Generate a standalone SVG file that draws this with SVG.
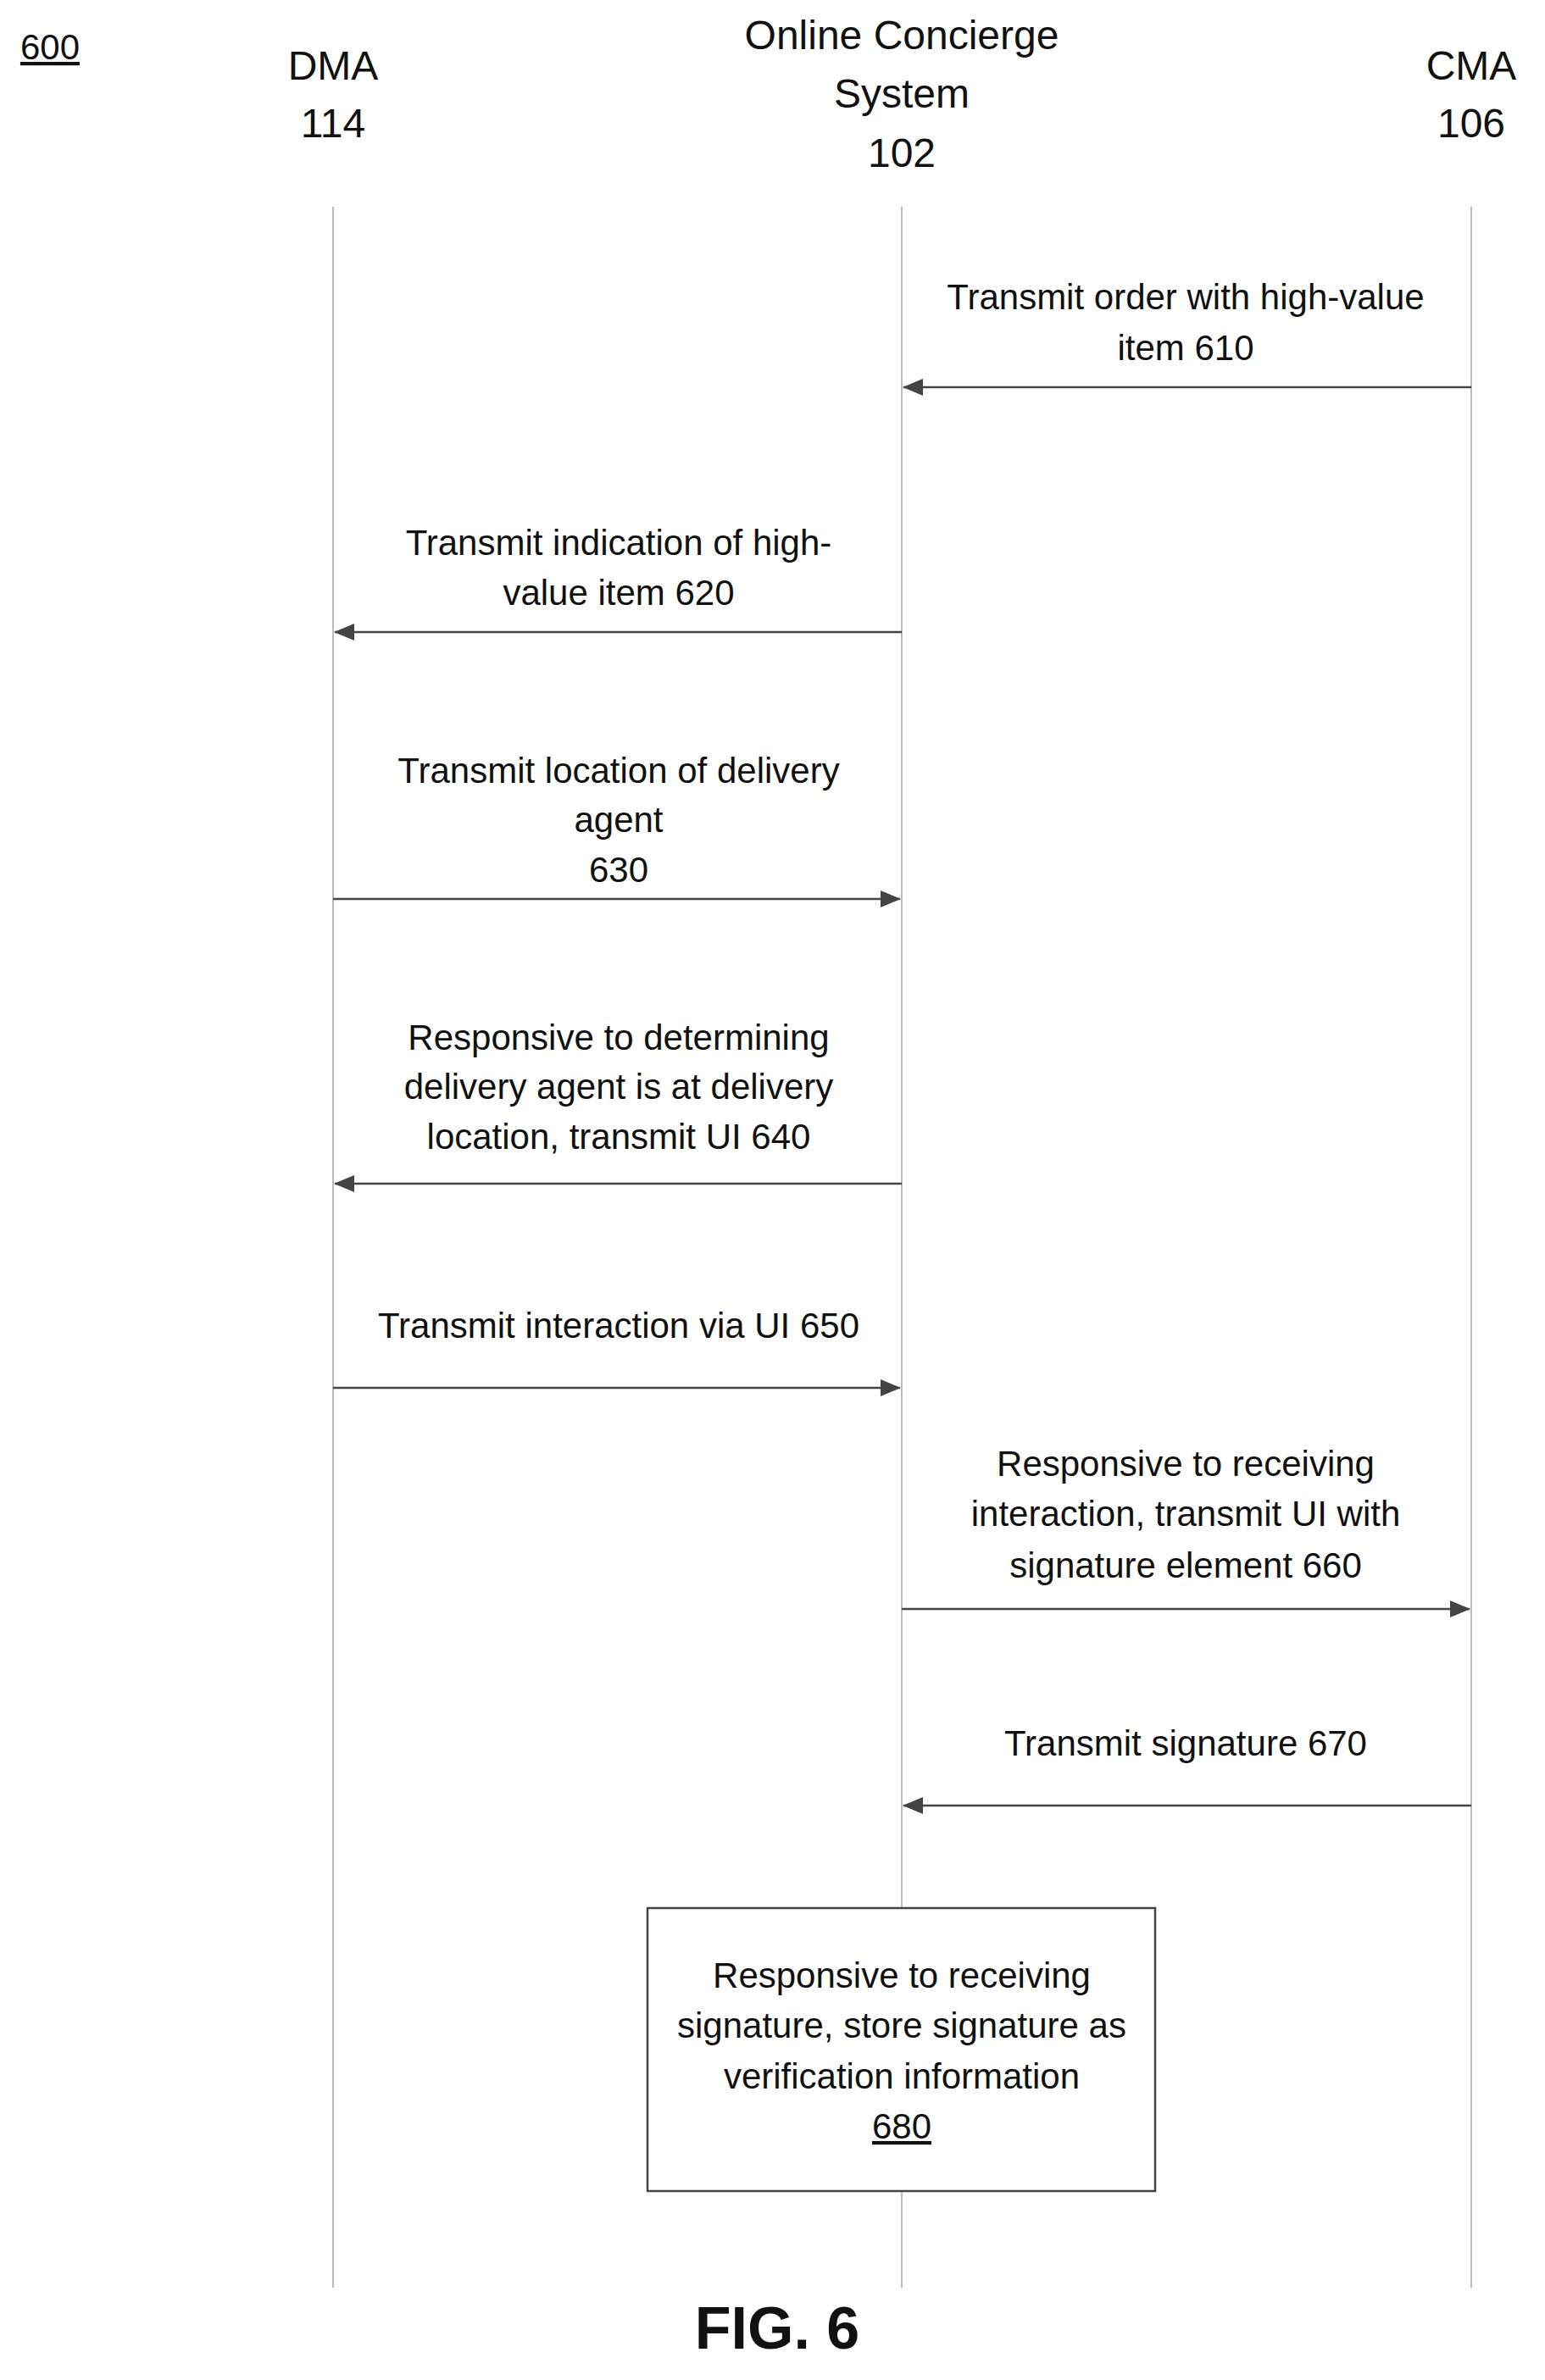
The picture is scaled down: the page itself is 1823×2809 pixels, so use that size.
<svg xmlns="http://www.w3.org/2000/svg" width="1823" height="2809" viewBox="0 0 1823 2809">
<style>
text{font-family:"Liberation Sans",Arial,sans-serif;font-size:42px;fill:#111;text-anchor:middle}
.hd{font-size:48px}
.life{stroke:#bbb;stroke-width:2;fill:none}
.msg{stroke:#444;stroke-width:2.5;fill:none;marker-end:url(#ah)}
</style>
<defs><marker id="ah" markerWidth="24" markerHeight="20" refX="23" refY="10" orient="auto" markerUnits="userSpaceOnUse"><path d="M0,0 L24,10 L0,20 Z" fill="#444"/></marker></defs>
<rect width="1823" height="2809" fill="#fff"/>
<g id="label600"><text x="59" y="70" text-decoration="underline">600</text></g>
<g id="dma"><text class="hd" x="393" y="94">DMA</text><text class="hd" x="393" y="162">114</text><line class="life" x1="393" y1="244" x2="393" y2="2700"/></g>
<g id="ocs"><text class="hd" x="1064" y="58">Online Concierge</text><text class="hd" x="1064" y="127">System</text><text class="hd" x="1064" y="197">102</text><line class="life" x1="1064" y1="244" x2="1064" y2="2700"/></g>
<g id="cma"><text class="hd" x="1736" y="94">CMA</text><text class="hd" x="1736" y="162">106</text><line class="life" x1="1736" y1="244" x2="1736" y2="2700"/></g>
<g id="connectors">
<line class="msg" x1="1736" y1="457" x2="1066" y2="457"/>
<line class="msg" x1="1064" y1="746" x2="395" y2="746"/>
<line class="msg" x1="393" y1="1061" x2="1062" y2="1061"/>
<line class="msg" x1="1064" y1="1397" x2="395" y2="1397"/>
<line class="msg" x1="393" y1="1638" x2="1062" y2="1638"/>
<line class="msg" x1="1064" y1="1899" x2="1734" y2="1899"/>
<line class="msg" x1="1736" y1="2131" x2="1066" y2="2131"/>
</g>
<g id="labels">
<text x="1399" y="365">Transmit order with high-value</text><text x="1399" y="425">item 610</text>
<text x="730" y="655">Transmit indication of high-</text><text x="730" y="714">value item 620</text>
<text x="730" y="924">Transmit location of delivery</text><text x="730" y="982">agent</text><text x="730" y="1041">630</text>
<text x="730" y="1239">Responsive to determining</text><text x="730" y="1297">delivery agent is at delivery</text><text x="730" y="1356">location, transmit UI 640</text>
<text x="730" y="1579">Transmit interaction via UI 650</text>
<text x="1399" y="1742">Responsive to receiving</text><text x="1399" y="1801">interaction, transmit UI with</text><text x="1399" y="1862">signature element 660</text>
<text x="1399" y="2072">Transmit signature 670</text>
</g>
<g id="box680"><rect x="764" y="2252" width="599" height="334" fill="#fff" stroke="#444" stroke-width="2.5"/>
<text x="1064" y="2346">Responsive to receiving</text><text x="1064" y="2405">signature, store signature as</text><text x="1064" y="2465">verification information</text><text x="1064" y="2524" text-decoration="underline">680</text></g>
<g id="fig"><text x="917" y="2772" style="font-size:70px;font-weight:bold">FIG. 6</text></g>
</svg>
